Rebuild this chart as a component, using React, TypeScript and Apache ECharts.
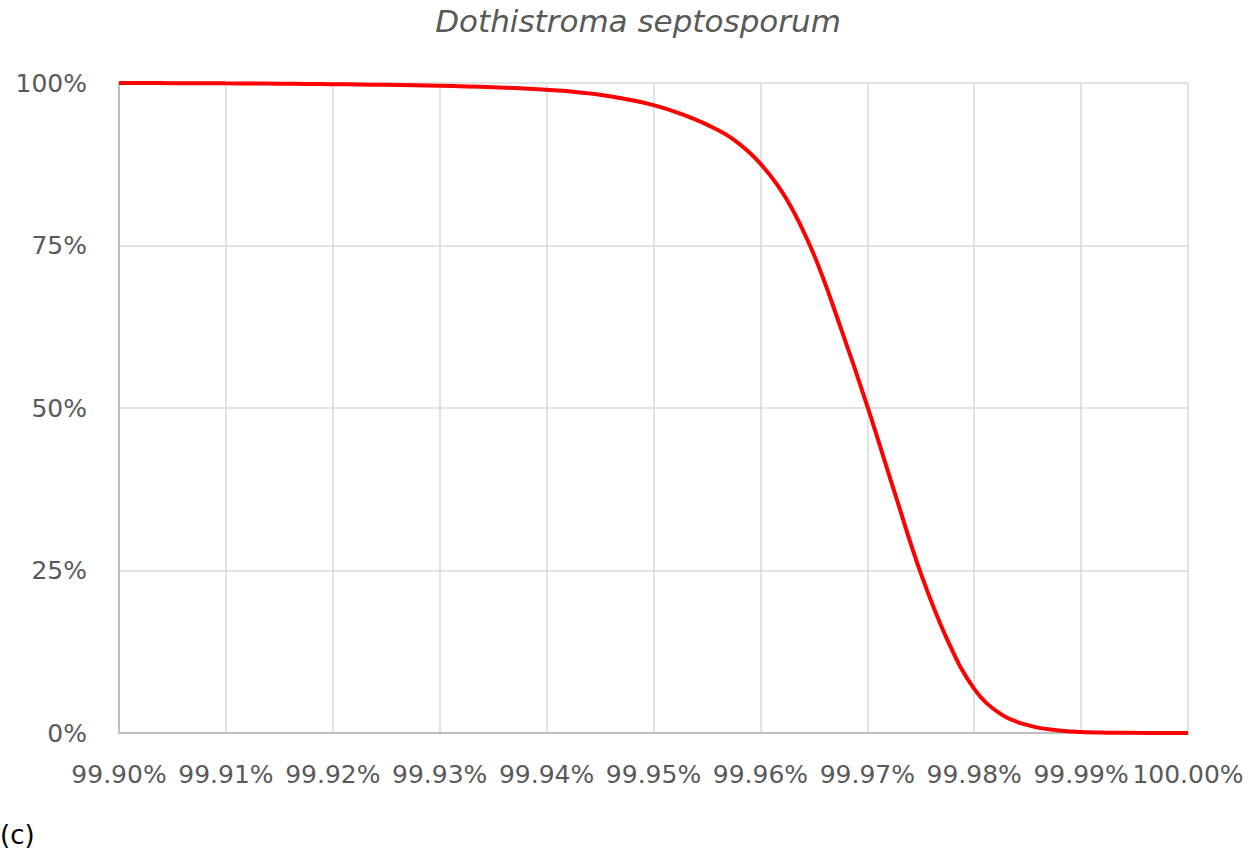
import React, { useEffect, useRef } from "react";
import * as echarts from "echarts";

const titleText = "Dothistroma septosporum";
const panelLabel = "(c)";

// Identity threshold (%) on the x axis
const identityPct = [
  99.9, 99.9025, 99.905, 99.9075, 99.91, 99.9125, 99.915, 99.9175, 99.92, 99.9225,
  99.925, 99.9275, 99.93, 99.9325, 99.935, 99.9375, 99.94, 99.9425, 99.945, 99.9475,
  99.95, 99.9525, 99.955, 99.9575, 99.96, 99.9625, 99.965, 99.9675, 99.97, 99.9725,
  99.975, 99.9775, 99.98, 99.9825, 99.985, 99.9875, 99.99, 99.9925, 99.995, 99.9975,
  100.0,
];

// Fraction (%) on the y axis
const fractionPct = [
  100, 99.99, 99.98, 99.97, 99.95, 99.93, 99.9, 99.86, 99.82, 99.77,
  99.72, 99.66, 99.58, 99.48, 99.35, 99.18, 98.95, 98.65, 98.2, 97.5,
  96.6, 95.3, 93.6, 91.3, 87.6, 82.0, 73.6, 62.4, 50.3, 37.3,
  24.6, 14.3, 6.8, 2.9, 1.2, 0.45, 0.15, 0.05, 0.02, 0.01,
  0,
];

const yTicks = [0, 25, 50, 75, 100];

const SCALE = 10000;

export default function App() {
  const ref = useRef<HTMLDivElement>(null);

  useEffect(() => {
    if (!ref.current) return;
    const chart = echarts.init(ref.current, undefined, { renderer: "svg" });
    const data = identityPct.map((x, i) => [Math.round(x * SCALE), fractionPct[i]]);
    const labelFont = "DejaVu Sans";
    chart.setOption({
      animation: false,
      backgroundColor: "#ffffff",
      title: {
        text: titleText,
        left: 633,
        top: 0,
        textAlign: "center",
        textStyle: {
          fontFamily: labelFont,
          fontStyle: "italic",
          fontWeight: "normal",
          fontSize: 31,
          color: "#595959",
        },
      },
      grid: { left: 119, right: 62, top: 83, bottom: 120, containLabel: false },
      xAxis: {
        type: "value",
        min: 999000,
        max: 1000000,
        interval: 100,
        axisLine: { show: true, lineStyle: { color: "#bfbfbf", width: 2 } },
        axisTick: { show: false },
        splitLine: { show: true, lineStyle: { color: "#d9d9d9", width: 1.5 } },
        axisLabel: {
          margin: 29,
          fontFamily: labelFont,
          fontSize: 25,
          color: "#595959",
          showMinLabel: true,
          showMaxLabel: true,
          hideOverlap: false,
          formatter: (v: number) => (v / SCALE).toFixed(2) + "%",
        },
      },
      yAxis: {
        type: "value",
        min: yTicks[0],
        max: yTicks[yTicks.length - 1],
        interval: 25,
        axisLine: { show: true, lineStyle: { color: "#bfbfbf", width: 2 } },
        axisTick: { show: false },
        splitLine: { show: true, lineStyle: { color: "#d9d9d9", width: 1.5 } },
        axisLabel: {
          margin: 32,
          fontFamily: labelFont,
          fontSize: 25,
          color: "#595959",
          formatter: "{value}%",
        },
      },
      series: [
        {
          type: "line",
          data,
          showSymbol: false,
          smooth: 0.4,
          lineStyle: { color: "#ff0000", width: 4 },
          itemStyle: { color: "#ff0000" },
        },
      ],
      graphic: [
        {
          type: "text",
          left: 0,
          top: 822,
          style: {
            text: panelLabel,
            fontFamily: labelFont,
            fontSize: 26,
            fill: "#000000",
          },
        },
      ],
    });
    return () => chart.dispose();
  }, []);

  return (
    <div
      ref={ref}
      style={{ position: "fixed", left: 0, top: 0, width: 1250, height: 853 }}
    />
  );
}
